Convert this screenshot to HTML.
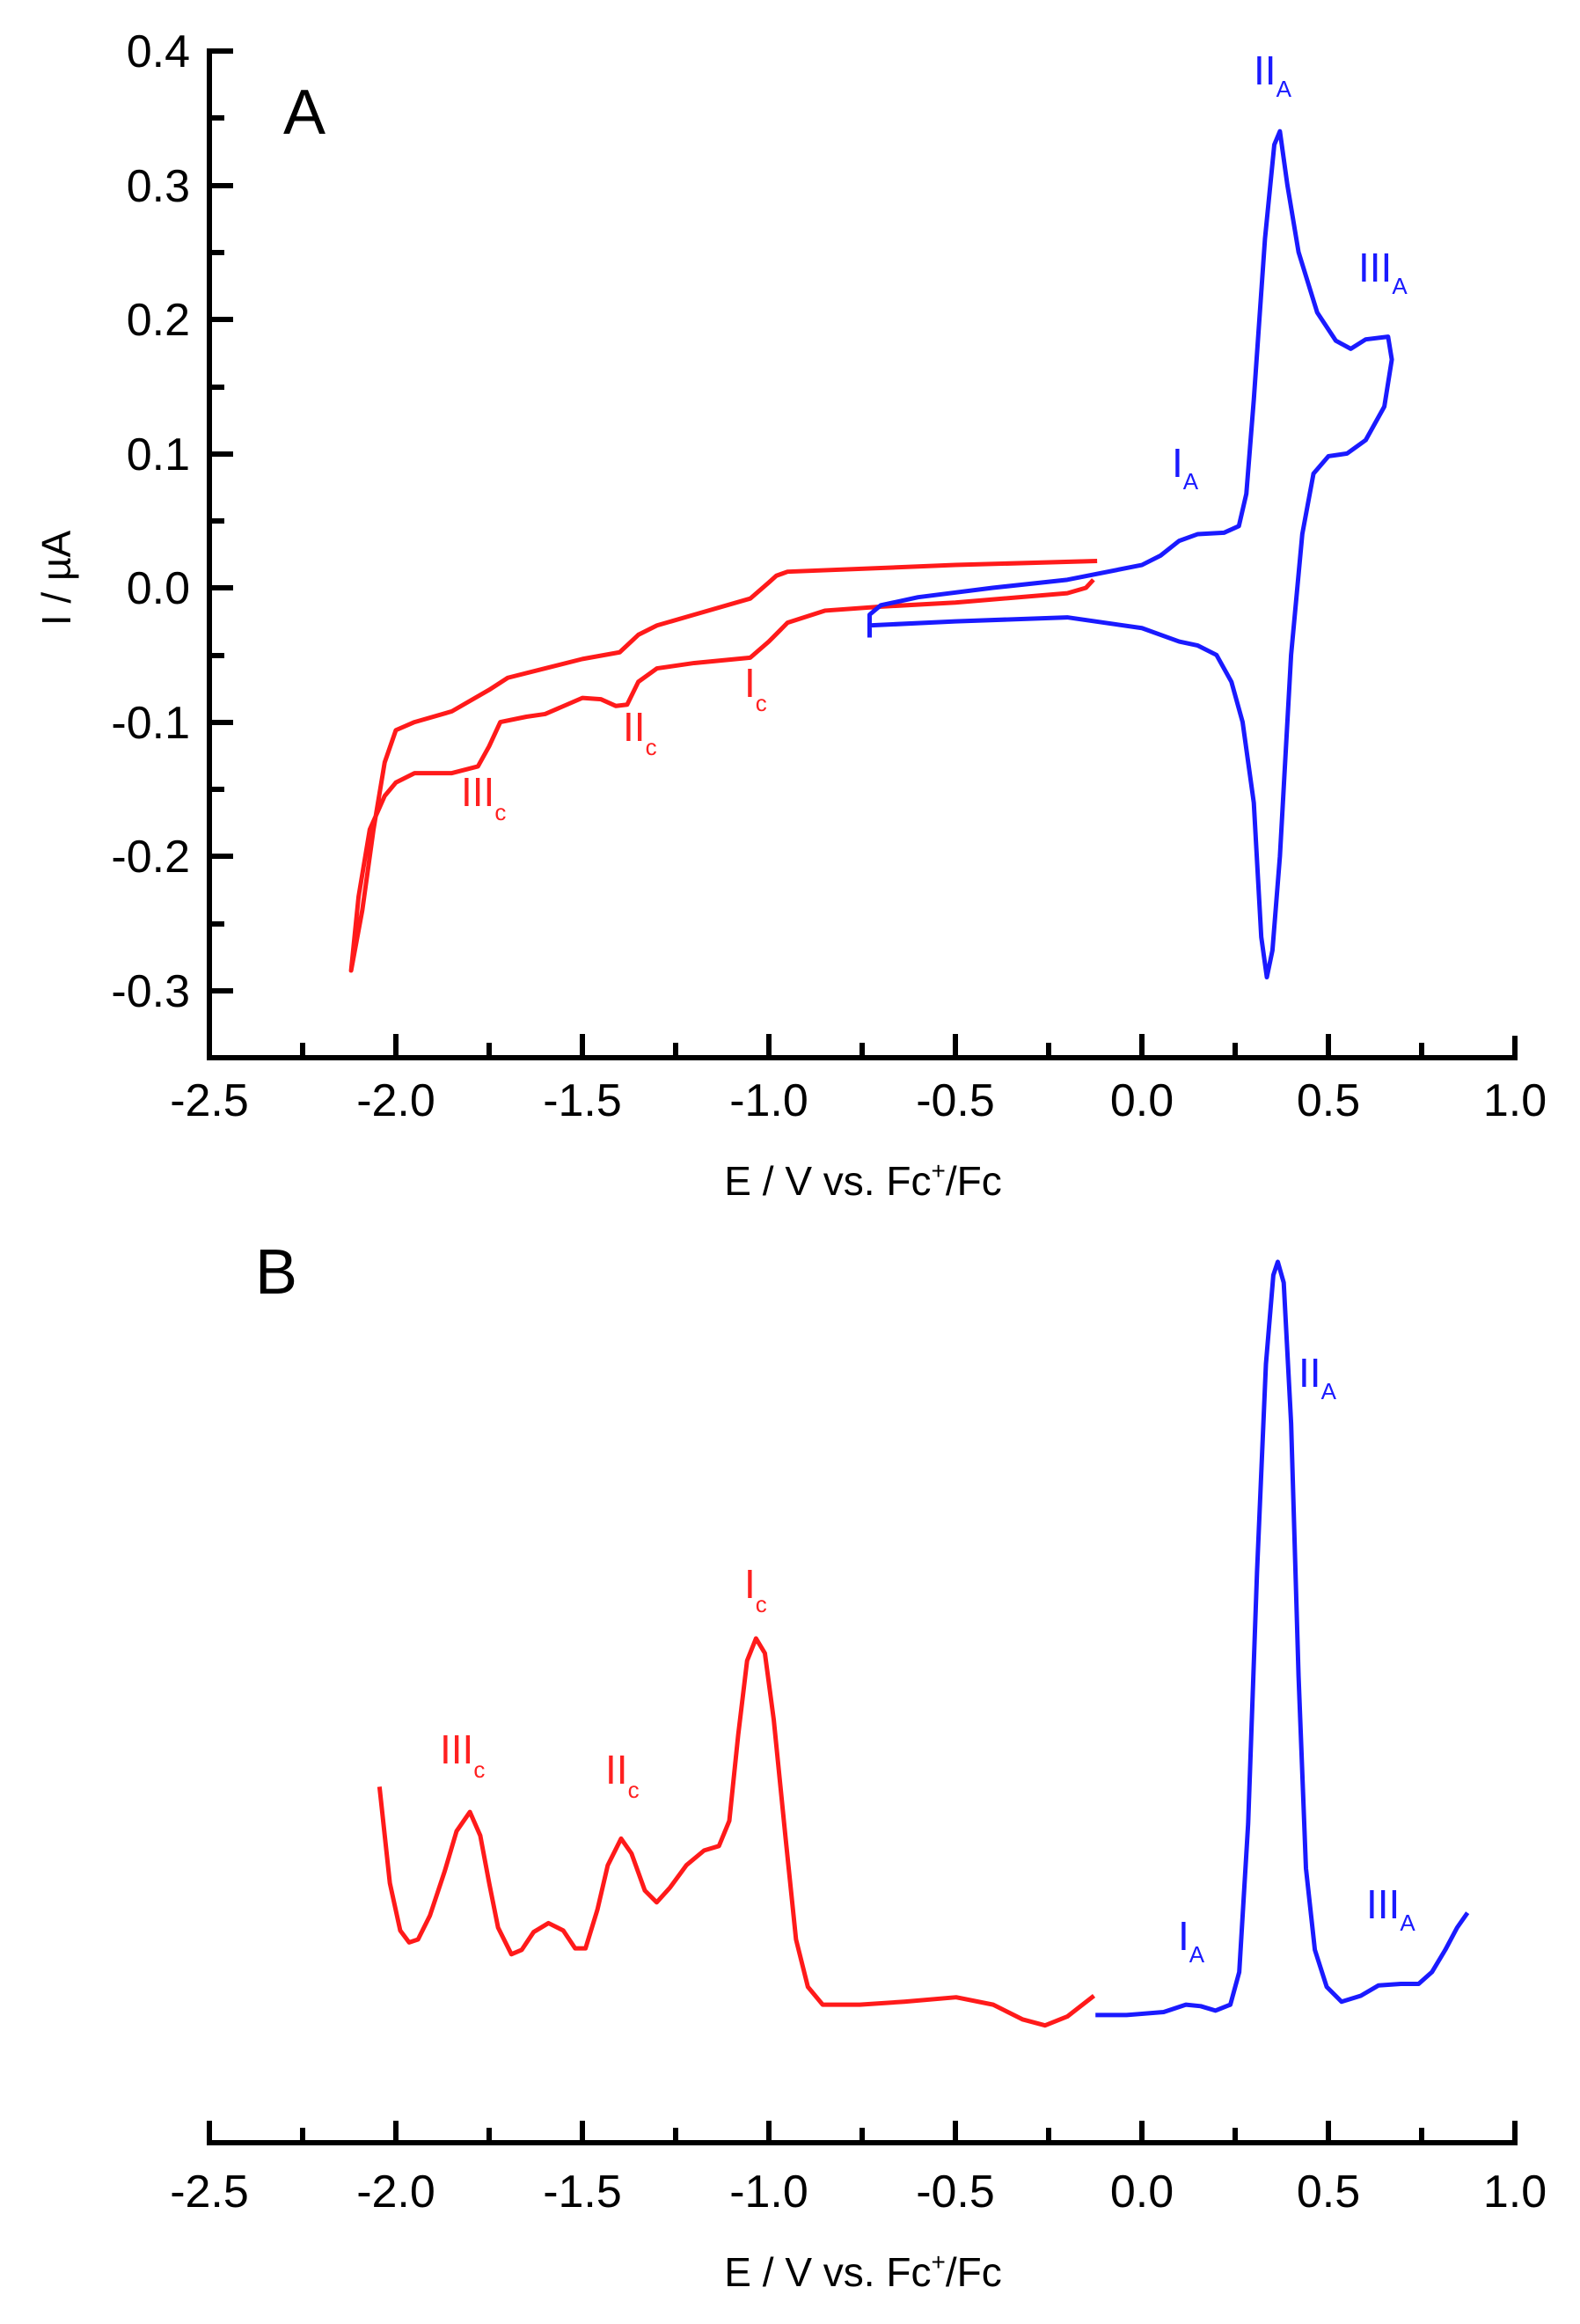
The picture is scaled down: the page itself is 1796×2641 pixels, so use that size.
<!DOCTYPE html>
<html><head><meta charset="utf-8"><style>
html,body{margin:0;padding:0;background:#fff}
svg{display:block}
text{font-family:"Liberation Sans",Arial,sans-serif}
.t{font-size:52px;fill:#000}
.r{fill:#ff2020;font-size:46px}
.b{fill:#1a1aff;font-size:46px}
.s{font-size:26px}
</style></head><body>
<svg width="1796" height="2641" viewBox="0 0 1796 2641" xmlns="http://www.w3.org/2000/svg">
<rect width="1796" height="2641" fill="#fff"/>
<g stroke="#000" stroke-width="6" fill="none" stroke-linecap="square">
<path d="M238,58 V1202 H1722 V1180"/>
<path d="M238,58 H262 M238,211 H262 M238,363 H262 M238,516 H262 M238,668 H262 M238,821 H262 M238,973 H262 M238,1126 H262"/>
<path d="M238,134 H252 M238,287 H252 M238,440 H252 M238,592 H252 M238,745 H252 M238,897 H252 M238,1050 H252"/>
<path d="M450,1202 V1178 M662,1202 V1178 M874,1202 V1178 M1086,1202 V1178 M1298,1202 V1178 M1510,1202 V1178"/>
<path d="M344,1202 V1188 M556,1202 V1188 M768,1202 V1188 M980,1202 V1188 M1192,1202 V1188 M1404,1202 V1188 M1616,1202 V1188"/>
</g>
<g class="t" text-anchor="end">
<text x="216" y="76">0.4</text><text x="216" y="229">0.3</text><text x="216" y="381">0.2</text><text x="216" y="534">0.1</text><text x="216" y="686">0.0</text><text x="216" y="839">-0.1</text><text x="216" y="991">-0.2</text><text x="216" y="1144">-0.3</text>
</g>
<g class="t" text-anchor="middle">
<text x="238" y="1268">-2.5</text><text x="450" y="1268">-2.0</text><text x="662" y="1268">-1.5</text><text x="874" y="1268">-1.0</text><text x="1086" y="1268">-0.5</text><text x="1298" y="1268">0.0</text><text x="1510" y="1268">0.5</text><text x="1722" y="1268">1.0</text>
</g>
<text class="t" x="981" y="1358" text-anchor="middle" style="font-size:46px">E / V vs. Fc<tspan dy="-18" style="font-size:28px">+</tspan><tspan dy="18">/Fc</tspan></text>
<text class="t" transform="translate(80,657) rotate(-90)" text-anchor="middle" style="font-size:46px">I / µA</text>
<text x="322" y="152" style="font-size:72px">A</text>
<g transform="translate(1298,668) scale(424,-1526)" fill="none" stroke-width="5" stroke-linejoin="round">
<polyline stroke="#ff1a1a" vector-effect="non-scaling-stroke" points="-0.12,0.020 -0.5,0.017 -0.95,0.012 -0.98,0.009 -1.0,0.004 -1.05,-0.008 -1.2,-0.02 -1.3,-0.028 -1.35,-0.035 -1.4,-0.048 -1.5,-0.053 -1.6,-0.06 -1.7,-0.067 -1.75,-0.076 -1.85,-0.092 -1.95,-0.1 -2.0,-0.106 -2.03,-0.13 -2.06,-0.18 -2.09,-0.24 -2.12,-0.285 -2.1,-0.23 -2.07,-0.18 -2.03,-0.155 -2.0,-0.145 -1.95,-0.138 -1.85,-0.138 -1.78,-0.133 -1.75,-0.118 -1.72,-0.1 -1.65,-0.096 -1.6,-0.094 -1.5,-0.082 -1.45,-0.083 -1.41,-0.088 -1.38,-0.087 -1.35,-0.07 -1.3,-0.06 -1.2,-0.056 -1.05,-0.052 -1.0,-0.04 -0.95,-0.026 -0.85,-0.017 -0.7,-0.014 -0.5,-0.011 -0.2,-0.004 -0.15,0.0 -0.13,0.006"/>
<polyline stroke="#1a1aff" vector-effect="non-scaling-stroke" points="-0.73,-0.037 -0.73,-0.02 -0.7,-0.013 -0.6,-0.007 -0.4,0.0 -0.2,0.006 0.0,0.017 0.05,0.024 0.1,0.035 0.15,0.04 0.22,0.041 0.26,0.046 0.28,0.07 0.3,0.14 0.33,0.26 0.355,0.33 0.37,0.34 0.39,0.3 0.42,0.25 0.47,0.205 0.52,0.184 0.56,0.178 0.6,0.185 0.66,0.187 0.67,0.17 0.65,0.135 0.6,0.11 0.55,0.1 0.5,0.098 0.46,0.085 0.43,0.04 0.4,-0.05 0.37,-0.2 0.35,-0.27 0.335,-0.29 0.32,-0.26 0.3,-0.16 0.27,-0.1 0.24,-0.07 0.2,-0.05 0.15,-0.043 0.1,-0.04 0.0,-0.03 -0.2,-0.022 -0.5,-0.025 -0.73,-0.028 -0.73,-0.037"/>
</g>
<text class="b" x="1425" y="96">II<tspan class="s" dy="14">A</tspan></text>
<text class="b" x="1544" y="320">III<tspan class="s" dy="14">A</tspan></text>
<text class="b" x="1332" y="542">I<tspan class="s" dy="14">A</tspan></text>
<text class="r" x="846" y="792">I<tspan class="s" dy="16">c</tspan></text>
<text class="r" x="708" y="842">II<tspan class="s" dy="16">c</tspan></text>
<text class="r" x="524" y="916">III<tspan class="s" dy="16">c</tspan></text>

<text x="290" y="1470" style="font-size:72px">B</text>
<g stroke="#000" stroke-width="6" fill="none" stroke-linecap="square">
<path d="M238,2413 V2435 H1722 V2413"/>
<path d="M450,2435 V2413 M662,2435 V2413 M874,2435 V2413 M1086,2435 V2413 M1298,2435 V2413 M1510,2435 V2413"/>
<path d="M344,2435 V2421 M556,2435 V2421 M768,2435 V2421 M980,2435 V2421 M1192,2435 V2421 M1404,2435 V2421 M1616,2435 V2421"/>
</g>
<g class="t" text-anchor="middle">
<text x="238" y="2508">-2.5</text><text x="450" y="2508">-2.0</text><text x="662" y="2508">-1.5</text><text x="874" y="2508">-1.0</text><text x="1086" y="2508">-0.5</text><text x="1298" y="2508">0.0</text><text x="1510" y="2508">0.5</text><text x="1722" y="2508">1.0</text>
</g>
<text class="t" x="981" y="2598" text-anchor="middle" style="font-size:46px">E / V vs. Fc<tspan dy="-18" style="font-size:28px">+</tspan><tspan dy="18">/Fc</tspan></text>
<g transform="scale(1.685)" fill="none" stroke-width="5" stroke-linejoin="round">
<polyline stroke="#ff1a1a" vector-effect="non-scaling-stroke" points="256,1205 263,1270 270,1302 276,1310 282,1308 290,1292 300,1262 308,1235 317,1222 324,1238 330,1270 336,1300 345,1318 352,1315 360,1303 370,1297 380,1302 388,1314 395,1314 403,1288 410,1258 419,1240 426,1250 435,1275 443,1283 452,1273 463,1258 475,1248 485,1245 492,1228 498,1170 504,1120 510,1105 516,1115 522,1160 530,1240 537,1308 545,1340 555,1352 580,1352 610,1350 645,1347 670,1352 690,1362 705,1366 720,1360 738,1346"/>
<polyline stroke="#1a1aff" vector-effect="non-scaling-stroke" points="739,1359 760,1359 785,1357 800,1352 810,1353 820,1356 830,1352 836,1330 842,1230 848,1060 854,920 859,860 862,851 866,865 871,960 876,1130 881,1260 887,1315 895,1340 905,1350 918,1346 930,1339 945,1338 957,1338 966,1330 975,1315 983,1300 990,1290"/>
</g>
<text class="b" x="1476" y="1576">II<tspan class="s" dy="14">A</tspan></text>
<text class="r" x="846" y="1816">I<tspan class="s" dy="16">c</tspan></text>
<text class="r" x="500" y="2004">III<tspan class="s" dy="16">c</tspan></text>
<text class="r" x="688" y="2027">II<tspan class="s" dy="16">c</tspan></text>
<text class="b" x="1339" y="2216">I<tspan class="s" dy="14">A</tspan></text>
<text class="b" x="1553" y="2180">III<tspan class="s" dy="14">A</tspan></text>
</svg>
</body></html>
